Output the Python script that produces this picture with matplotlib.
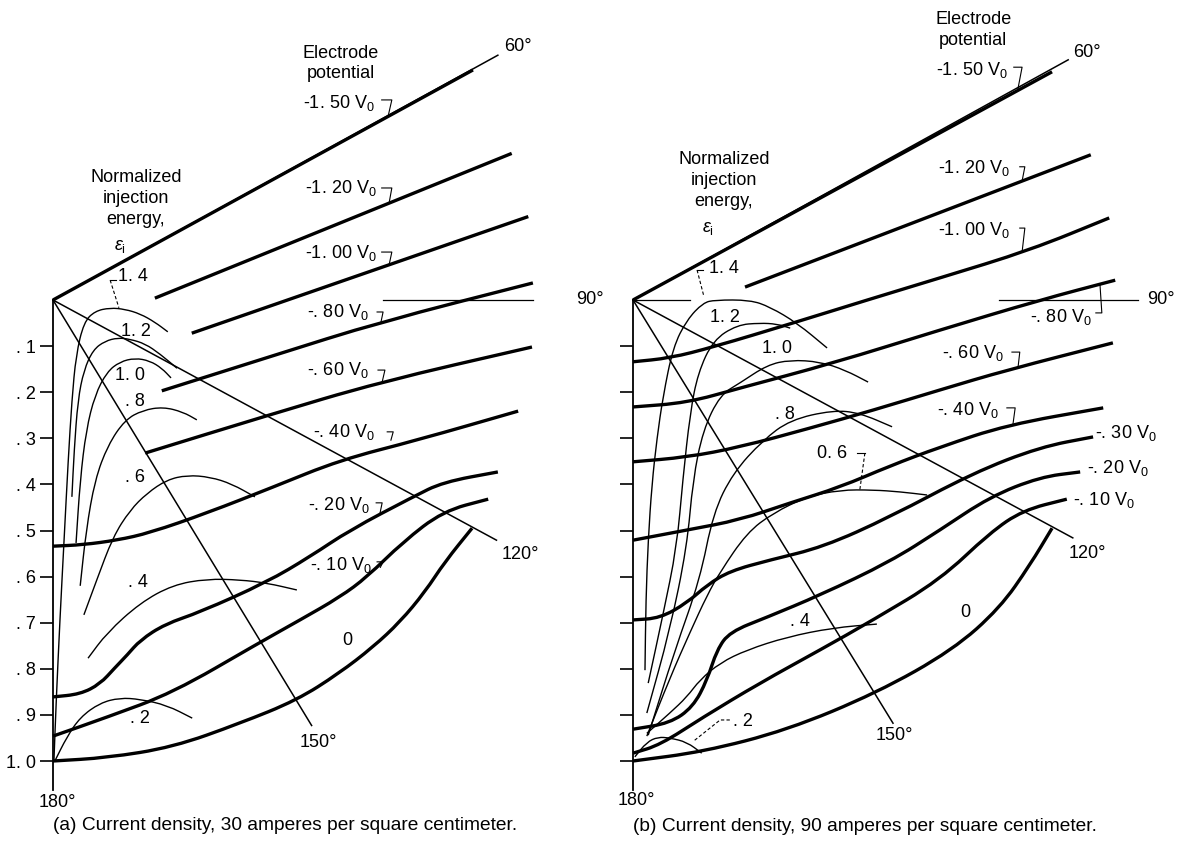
import matplotlib
matplotlib.use("Agg")
import matplotlib.pyplot as plt
from matplotlib.path import Path
from matplotlib.patches import PathPatch

plt.rcParams['font.family'] = ['Liberation Sans', 'DejaVu Sans']
plt.rcParams['mathtext.fontset'] = 'custom'
plt.rcParams['mathtext.rm'] = 'Liberation Sans'
plt.rcParams['mathtext.it'] = 'Liberation Sans:italic'

# normalized distance along the 180 deg wall (0 at apex, 1 at the bottom)
ticks = [0.1, 0.2, 0.3, 0.4, 0.5, 0.6, 0.7, 0.8, 0.9, 1.0]
tick_labels = ['. 1', '. 2', '. 3', '. 4', '. 5', '. 6', '. 7', '. 8', '. 9', '1. 0']
wall_end = 1.063

# ---------------- panel (a): 30 A/cm2 ----------------
a_rays = {'60°': (0.965, -0.531), '120°': (0.962, 0.521), '150°': (0.561, 0.923)}
a_ray90 = [(0.716, 1.041)]
a_ray_labels = {'60°': (1.009, -0.549), '90°': (1.165, 0.0), '120°': (1.013, 0.553),
                '150°': (0.575, 0.959), '180°': (0.009, 1.089)}

a_potential = {
    '-1. 50': [(0.0, 0.0), (0.911, -0.499)],
    '-1. 20': [(0.221, -0.004), (0.995, -0.318)],
    '-1. 00': [(0.301, 0.072), (1.031, -0.181)],
    '-. 80': [(0.236, 0.197), (0.480, 0.120), (0.709, 0.048), (1.041, -0.037)],
    '-. 60': [(0.200, 0.332), (0.460, 0.252), (0.709, 0.178), (1.039, 0.102)],
    '-. 40': [(0.0, 0.534), (0.065, 0.531), (0.139, 0.521), (0.210, 0.505), (0.334, 0.462),
              (0.477, 0.406), (0.623, 0.347), (0.790, 0.304), (1.009, 0.241)],
    '-. 20': [(0.0, 0.861), (0.059, 0.855), (0.102, 0.833), (0.134, 0.798), (0.161, 0.770),
              (0.189, 0.738), (0.243, 0.703), (0.319, 0.677), (0.464, 0.612), (0.557, 0.557),
              (0.644, 0.499), (0.781, 0.427), (0.846, 0.395), (0.965, 0.373)],
    '-. 10': [(0.0, 0.946), (0.117, 0.905), (0.260, 0.852), (0.443, 0.746), (0.536, 0.694),
              (0.623, 0.644), (0.681, 0.601), (0.759, 0.525), (0.846, 0.458), (0.944, 0.432)],
    '0': [(0.0, 1.0), (0.117, 0.993), (0.260, 0.970), (0.406, 0.918), (0.529, 0.868),
          (0.620, 0.810), (0.694, 0.753), (0.753, 0.698), (0.807, 0.633), (0.850, 0.568),
          (0.909, 0.495)],
}
a_potential_labels = [('-1. 50', 0.542, -0.427), ('-1. 20', 0.547, -0.243), ('-1. 00', 0.547, -0.102),
                      ('-. 80', 0.551, 0.026), ('-. 60', 0.551, 0.152), ('-. 40', 0.564, 0.286),
                      ('-. 20', 0.553, 0.445), ('-. 10', 0.557, 0.575)]
a_potential_leaders = [
    [(0.713, -0.434), (0.735, -0.434), (0.727, -0.399)],
    [(0.713, -0.243), (0.735, -0.243), (0.729, -0.210)],
    [(0.713, -0.104), (0.735, -0.104), (0.729, -0.076)],
    [(0.703, 0.026), (0.716, 0.026), (0.711, 0.050)],
    [(0.705, 0.152), (0.720, 0.152), (0.714, 0.178)],
    [(0.725, 0.286), (0.738, 0.286), (0.733, 0.304)],
    [(0.701, 0.440), (0.714, 0.440), (0.709, 0.464)],
    [(0.703, 0.568), (0.716, 0.568), (0.710, 0.580)],
]

a_energy = {
    '1.4': [(0.002, 1.0), (0.007, 0.868), (0.015, 0.694), (0.024, 0.521), (0.033, 0.347),
            (0.041, 0.217), (0.050, 0.119), (0.067, 0.048), (0.091, 0.024), (0.124, 0.017),
            (0.156, 0.020), (0.189, 0.030), (0.221, 0.048), (0.249, 0.069)],
    '1.2': [(0.041, 0.427), (0.046, 0.325), (0.054, 0.217), (0.067, 0.152), (0.087, 0.108),
            (0.113, 0.089), (0.141, 0.082), (0.167, 0.085), (0.200, 0.095), (0.232, 0.117),
            (0.269, 0.148)],
    '1.0': [(0.050, 0.527), (0.059, 0.390), (0.072, 0.282), (0.091, 0.206), (0.117, 0.156),
            (0.145, 0.134), (0.178, 0.126), (0.210, 0.132), (0.236, 0.148), (0.256, 0.169)],
    '.8': [(0.059, 0.620), (0.072, 0.499), (0.091, 0.390), (0.119, 0.315), (0.156, 0.260),
           (0.195, 0.239), (0.239, 0.232), (0.282, 0.243), (0.312, 0.260)],
    '.6': [(0.067, 0.683), (0.095, 0.607), (0.130, 0.514), (0.167, 0.456), (0.204, 0.419),
           (0.247, 0.390), (0.291, 0.380), (0.341, 0.384), (0.388, 0.399), (0.438, 0.427)],
    '.4': [(0.076, 0.777), (0.117, 0.722), (0.189, 0.657), (0.260, 0.618), (0.334, 0.605),
           (0.406, 0.607), (0.464, 0.614), (0.529, 0.629)],
    '.2': [(0.004, 1.0), (0.030, 0.948), (0.059, 0.905), (0.102, 0.874), (0.145, 0.863),
           (0.189, 0.866), (0.247, 0.879), (0.302, 0.907)],
}
a_energy_labels = {'1. 2': (0.180, 0.069), '1. 0': (0.167, 0.163), '. 8': (0.178, 0.221),
                   '. 6': (0.178, 0.384), '. 4': (0.184, 0.612), '. 2': (0.189, 0.907),
                   '0': (0.638, 0.738)}
a_top_label = ('1. 4', 0.141, -0.050)
a_top_leader = [(0.137, -0.043), (0.124, -0.043), (0.143, 0.017)]
a_header = (0.625, -0.513)
a_energy_title = (0.180, -0.221)

# ---------------- panel (b): 90 A/cm2 ----------------
b_rays = {'60°': (0.944, -0.521), '120°': (0.954, 0.516), '150°': (0.564, 0.918)}
b_ray90 = [(0.0, 0.124), (0.794, 1.095)]
b_ray_labels = {'60°': (0.985, -0.536), '90°': (1.145, 0.0), '120°': (0.985, 0.549),
                '150°': (0.568, 0.944), '180°': (0.007, 1.085)}

b_potential = {
    '-1. 50': [(0.0, 0.0), (0.909, -0.495)],
    '-1. 20': [(0.243, -0.028), (0.993, -0.315)],
    '-1. 00': [(0.0, 0.134), (0.080, 0.126), (0.174, 0.102), (0.347, 0.050), (0.508, 0.0),
               (0.666, -0.048), (0.861, -0.108), (1.033, -0.178)],
    '-. 80': [(0.0, 0.232), (0.117, 0.223), (0.232, 0.191), (0.434, 0.137), (0.666, 0.065),
              (0.883, 0.0), (1.046, -0.043)],
    '-. 60': [(0.0, 0.351), (0.117, 0.341), (0.232, 0.319), (0.384, 0.278), (0.521, 0.239),
              (0.666, 0.195), (0.811, 0.152), (1.041, 0.093)],
    '-. 40': [(0.0, 0.521), (0.117, 0.499), (0.232, 0.477), (0.341, 0.440), (0.449, 0.406),
              (0.557, 0.360), (0.666, 0.319), (0.811, 0.271), (1.020, 0.234)],
    '-. 30': [(0.0, 0.694), (0.059, 0.690), (0.117, 0.657), (0.161, 0.618), (0.210, 0.588),
              (0.297, 0.564), (0.412, 0.536), (0.557, 0.471), (0.738, 0.375), (0.883, 0.319),
              (0.998, 0.297)],
    '-. 20': [(0.0, 0.931), (0.080, 0.918), (0.130, 0.883), (0.161, 0.824), (0.182, 0.759),
              (0.210, 0.720), (0.291, 0.688), (0.406, 0.640), (0.557, 0.568), (0.666, 0.499),
              (0.774, 0.427), (0.883, 0.384), (0.970, 0.373)],
    '-. 10': [(0.0, 0.983), (0.059, 0.965), (0.152, 0.905), (0.275, 0.831), (0.406, 0.759),
              (0.521, 0.694), (0.666, 0.607), (0.774, 0.505), (0.846, 0.456), (0.941, 0.432)],
    '0': [(0.0, 1.0), (0.152, 0.980), (0.334, 0.933), (0.529, 0.852), (0.694, 0.759),
          (0.796, 0.668), (0.861, 0.575), (0.909, 0.495)],
}
b_potential_labels = [('-1. 50', 0.657, -0.499), ('-1. 20', 0.662, -0.286), ('-1. 00', 0.662, -0.152),
                      ('-. 80', 0.861, 0.037), ('-. 60', 0.670, 0.115), ('-. 40', 0.659, 0.239),
                      ('-. 30', 1.002, 0.289), ('-. 20', 0.985, 0.364), ('-. 10', 0.954, 0.434)]
b_potential_leaders = [
    [(0.826, -0.505), (0.844, -0.505), (0.835, -0.458)],
    [(0.839, -0.289), (0.850, -0.289), (0.844, -0.258)],
    [(0.839, -0.156), (0.850, -0.156), (0.844, -0.104)],
    [(1.004, 0.028), (1.017, 0.028), (1.013, -0.033)],
    [(0.822, 0.113), (0.839, 0.113), (0.835, 0.148)],
    [(0.811, 0.234), (0.829, 0.234), (0.824, 0.271)],
]

b_energy = {
    '1.4': [(0.026, 0.803), (0.028, 0.650), (0.033, 0.520), (0.041, 0.400), (0.052, 0.300),
            (0.065, 0.210), (0.087, 0.102), (0.117, 0.043), (0.152, 0.006), (0.178, 0.0),
            (0.254, 0.0), (0.297, 0.015), (0.356, 0.050), (0.421, 0.104)],
    '1.2': [(0.033, 0.831), (0.065, 0.683), (0.095, 0.536), (0.108, 0.390), (0.124, 0.245),
            (0.141, 0.158), (0.174, 0.087), (0.226, 0.054), (0.275, 0.050), (0.312, 0.052),
            (0.341, 0.061)],
    '1.0': [(0.030, 0.896), (0.080, 0.716), (0.117, 0.536), (0.130, 0.390), (0.152, 0.282),
            (0.189, 0.206), (0.232, 0.180), (0.291, 0.141), (0.341, 0.130), (0.406, 0.134),
            (0.460, 0.152), (0.510, 0.178)],
    '.8': [(0.033, 0.944), (0.091, 0.759), (0.145, 0.607), (0.174, 0.462), (0.217, 0.375),
           (0.282, 0.304), (0.341, 0.260), (0.434, 0.239), (0.492, 0.245), (0.562, 0.275)],
    '.6': [(0.030, 0.946), (0.080, 0.820), (0.124, 0.720), (0.161, 0.640), (0.189, 0.590),
           (0.247, 0.505), (0.304, 0.462), (0.377, 0.427), (0.449, 0.412), (0.521, 0.412),
           (0.579, 0.416), (0.638, 0.423)],
    '.4': [(0.030, 0.940), (0.080, 0.896), (0.117, 0.861), (0.145, 0.824), (0.189, 0.787),
           (0.247, 0.759), (0.334, 0.731), (0.434, 0.711), (0.529, 0.703)],
    '.2': [(0.004, 0.991), (0.030, 0.959), (0.054, 0.948), (0.080, 0.950), (0.117, 0.959),
           (0.149, 0.983)],
}
b_energy_labels = {'1. 2': (0.200, 0.039), '1. 0': (0.312, 0.106), '. 8': (0.330, 0.249),
                   '. 4': (0.362, 0.698), '0': (0.720, 0.677)}
b_top_label = ('1. 4', 0.165, -0.069)
b_top_leader = [(0.152, -0.065), (0.139, -0.065), (0.154, -0.007)]
b_mid_label = ('0. 6', 0.432, 0.332)
b_mid_leader = [(0.486, 0.332), (0.503, 0.332), (0.492, 0.412)]
b_low_label = ('. 2', 0.217, 0.915)
b_low_leader = [(0.210, 0.911), (0.189, 0.911), (0.130, 0.958)]
b_header = (0.738, -0.586)
b_energy_title = (0.197, -0.260)

# ---------------- layout (pixels of the 1181 x 842 figure) ----------------
FIG_W, FIG_H = 1181, 842
SCALE = 461
FS = 13
CAPTION_FS = 13.8

fig = plt.figure(figsize=(FIG_W / 100, FIG_H / 100), dpi=100)
fig.patch.set_facecolor('white')


def make_axes(x0, x1, origin):
    ax = fig.add_axes([x0 / FIG_W, 0, (x1 - x0) / FIG_W, 1])
    ax.set_xlim((x0 - origin[0]) / SCALE, (x1 - origin[0]) / SCALE)
    ax.set_ylim((FIG_H - origin[1]) / SCALE, -origin[1] / SCALE)
    ax.patch.set_alpha(0)
    for s in ['top', 'right', 'bottom']:
        ax.spines[s].set_visible(False)
    ax.spines['left'].set_position(('data', 0))
    ax.spines['left'].set_bounds(0, wall_end)
    ax.spines['left'].set_linewidth(1.3)
    ax.set_xticks([])
    ax.set_yticks(ticks)
    ax.tick_params(axis='y', direction='out', length=9.5, width=1.2, pad=3, labelsize=FS)
    return ax


def smooth(pts):
    # quadratic pieces through segment midpoints, the read points act as control points
    if len(pts) < 3:
        return Path(pts)
    mids = [((pts[i][0] + pts[i + 1][0]) / 2, (pts[i][1] + pts[i + 1][1]) / 2)
            for i in range(len(pts) - 1)]
    verts = [pts[0], mids[0]]
    codes = [Path.MOVETO, Path.LINETO]
    for i in range(1, len(pts) - 1):
        verts += [pts[i], mids[i]]
        codes += [Path.CURVE3, Path.CURVE3]
    verts.append(pts[-1])
    codes.append(Path.LINETO)
    return Path(verts, codes)


def curve(ax, pts, lw):
    ax.add_patch(PathPatch(smooth(pts), fill=False, edgecolor='black', lw=lw,
                           capstyle='butt', joinstyle='round'))


def leader(ax, pts, dashed=False):
    u, v = zip(*pts)
    ax.plot(u, v, color='black', lw=0.8, ls=(0, (3, 2)) if dashed else '-')


def draw_panel(ax, rays, ray90, ray_labels, potential, energy):
    for name, end in rays.items():
        ax.plot([0, end[0]], [0, end[1]], color='black', lw=1.1)
    for seg in ray90:
        ax.plot(seg, [0, 0], color='black', lw=0.9)
    for name, (u, v) in ray_labels.items():
        ax.text(u, v, name, fontsize=FS, ha='center', va='center')
    for name, pts in energy.items():
        curve(ax, pts, 1.0)
    for name, pts in potential.items():
        curve(ax, pts, 2.4)


def header(ax, pos, title_pos):
    ax.text(pos[0], pos[1], 'Electrode\npotential', fontsize=FS, ha='center', va='center',
            linespacing=1.3)
    ax.text(title_pos[0], title_pos[1], 'Normalized\ninjection\nenergy,', fontsize=FS,
            ha='center', va='center', linespacing=1.3)
    ax.text(title_pos[0] - 0.035, title_pos[1] + 0.105, r'$\epsilon_\mathregular{i}$',
            fontsize=FS, ha='center', va='center')


# panel (a)
ax_a = make_axes(0, 590, (53, 300))
ax_a.set_yticklabels(tick_labels)
draw_panel(ax_a, a_rays, a_ray90, a_ray_labels, a_potential, a_energy)
for (txt, u, v), ld in zip(a_potential_labels, a_potential_leaders):
    ax_a.text(u, v, txt + r' V$_\mathregular{0}$', fontsize=FS, ha='left', va='center')
    leader(ax_a, ld)
for txt, (u, v) in a_energy_labels.items():
    ax_a.text(u, v, txt, fontsize=FS, ha='center', va='center')
ax_a.text(a_top_label[1], a_top_label[2], a_top_label[0], fontsize=FS, ha='left', va='center')
leader(ax_a, a_top_leader[:2])
leader(ax_a, a_top_leader[1:], dashed=True)
header(ax_a, a_header, a_energy_title)
ax_a.text(0.0, 1.139, '(a) Current density, 30 amperes per square centimeter.',
          fontsize=CAPTION_FS, ha='left', va='center')

# panel (b)
ax_b = make_axes(590, 1181, (633, 300))
ax_b.set_yticklabels([])
draw_panel(ax_b, b_rays, b_ray90, b_ray_labels, b_potential, b_energy)
for i, (txt, u, v) in enumerate(b_potential_labels):
    ax_b.text(u, v, txt + r' V$_\mathregular{0}$', fontsize=FS, ha='left', va='center')
    if i < len(b_potential_leaders):
        leader(ax_b, b_potential_leaders[i])
for txt, (u, v) in b_energy_labels.items():
    ax_b.text(u, v, txt, fontsize=FS, ha='center', va='center')
ax_b.text(b_top_label[1], b_top_label[2], b_top_label[0], fontsize=FS, ha='left', va='center')
leader(ax_b, b_top_leader[:2])
leader(ax_b, b_top_leader[1:], dashed=True)
ax_b.text(b_mid_label[1], b_mid_label[2], b_mid_label[0], fontsize=FS, ha='center', va='center')
leader(ax_b, b_mid_leader[:2])
leader(ax_b, b_mid_leader[1:], dashed=True)
ax_b.text(b_low_label[1], b_low_label[2], b_low_label[0], fontsize=FS, ha='left', va='center')
leader(ax_b, b_low_leader, dashed=True)
header(ax_b, b_header, b_energy_title)
ax_b.text(0.0, 1.143, '(b) Current density, 90 amperes per square centimeter.',
          fontsize=CAPTION_FS, ha='left', va='center')

fig.savefig('out.png', dpi=100, facecolor='white')
